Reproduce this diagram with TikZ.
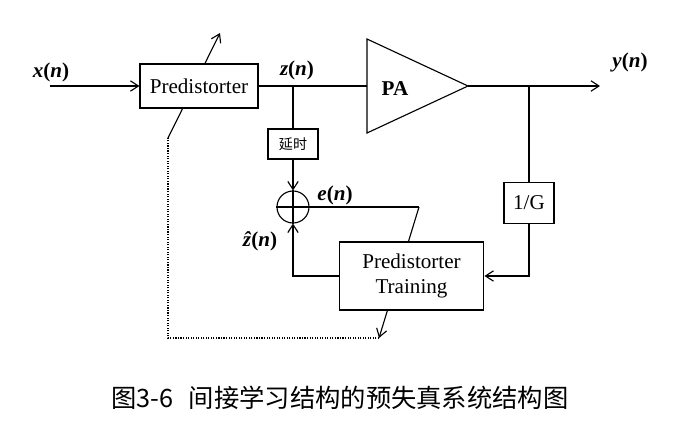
\documentclass[tikz,border=0pt]{standalone}
\usepackage{fontspec}
\setmainfont{Liberation Serif}
\newfontfamily\cjk{Noto Sans CJK SC}
\usetikzlibrary{arrows.meta}

\begin{document}
\begin{tikzpicture}[x=0.025cm, y=-0.025cm,
        box/.style={draw, line width=0.8pt, fill=white, align=center, inner sep=1pt,
                    font=\fontsize{15}{18}\selectfont},
        smallbox/.style={box, font=\cjk\fontsize{10}{12}\selectfont},
        sumnode/.style={draw, circle, line width=0.8pt, minimum size=0.8cm, inner sep=0pt},
        lbl/.style={font=\fontsize{15}{18}\selectfont\bfseries},
        wire/.style={line width=0.8pt},
        arrow/.style={wire, -{Straight Barb[length=2mm, width=2.6mm]}},
        adapt/.style={wire, densely dotted}
      ]
        \useasboundingbox (0,0) rectangle (680,437);

        % adaptation path (drawn first, boxes cover it)
        \coordinate (pdlow) at (168,138);
        \coordinate (pdtip) at (220,33);
        \coordinate (eknee) at (419,207);
        \coordinate (adapt) at (379,338);
        \draw[arrow] (pdlow) -- (pdtip);
        \draw[arrow] (eknee) -- (adapt);
        \draw[adapt] (adapt) -| (pdlow);

        \node[box, minimum width=2.95cm, minimum height=1.1cm]   (pd)    at (199,86)    {Predistorter};
        \node[smallbox, minimum width=1.25cm, minimum height=0.75cm] (delay) at (293,144) {延时};
        \node[sumnode]                                           (sum)   at (293,207)   {};
        \node[box, minimum width=1.25cm, minimum height=1.03cm]  (invg)  at (529,203)   {1/G};
        \node[box, minimum width=3.62cm, minimum height=1.7cm]   (train) at (411.5,276) {Predistorter\\Training};

        % PA
        \coordinate (pain)  at (367,86);
        \coordinate (paout) at (468,86);
        \draw[wire] (367,39) -- (paout) -- (367,133) -- cycle;
        \node[font=\fontsize{15}{18}\selectfont\bfseries] (patext) at (395,89) {PA};

        \coordinate (xin)  at (50,86);
        \coordinate (zj)   at (293,86);
        \coordinate (yj)   at (529,86);
        \coordinate (yout) at (600,86);

        \draw[arrow] (xin) -- (pd.west);
        \draw[wire]  (pd.east) -- (pain);
        \draw[wire]  (zj) -- (delay.north);
        \draw[arrow] (delay.south) -- (sum.north);
        \draw[wire]  (sum.north) -- (sum.south) (sum.west) -- (sum.east);
        \draw[arrow] (train.west) -| (sum.south);
        \draw[wire]  (sum.east) -- (eknee);
        \draw[arrow] (paout) -- (yout);
        \draw[wire]  (yj) -- (invg.north);
        \draw[arrow] (invg.south) |- (train.east);

        % labels
        \node[lbl] (xlbl)  at (51,72)  {\textit{x}(\textit{n})};
        \node[lbl] (zlbl)  at (297,70) {\textit{z}(\textit{n})};
        \node[lbl] (ylbl)  at (630,62) {\textit{y}(\textit{n})};
        \node[lbl] (elbl)  at (335,195) {\textit{e}(\textit{n})};
        \node[lbl] (zhlbl) at (260,241) {\textit{\^{z}}(\textit{n})};

        \node[font=\cjk\fontsize{18}{20}\selectfont] (caption) at (340,398)
            {图3-6\hspace{0.6em}间接学习结构的预失真系统结构图};
      \end{tikzpicture}
\end{document}
